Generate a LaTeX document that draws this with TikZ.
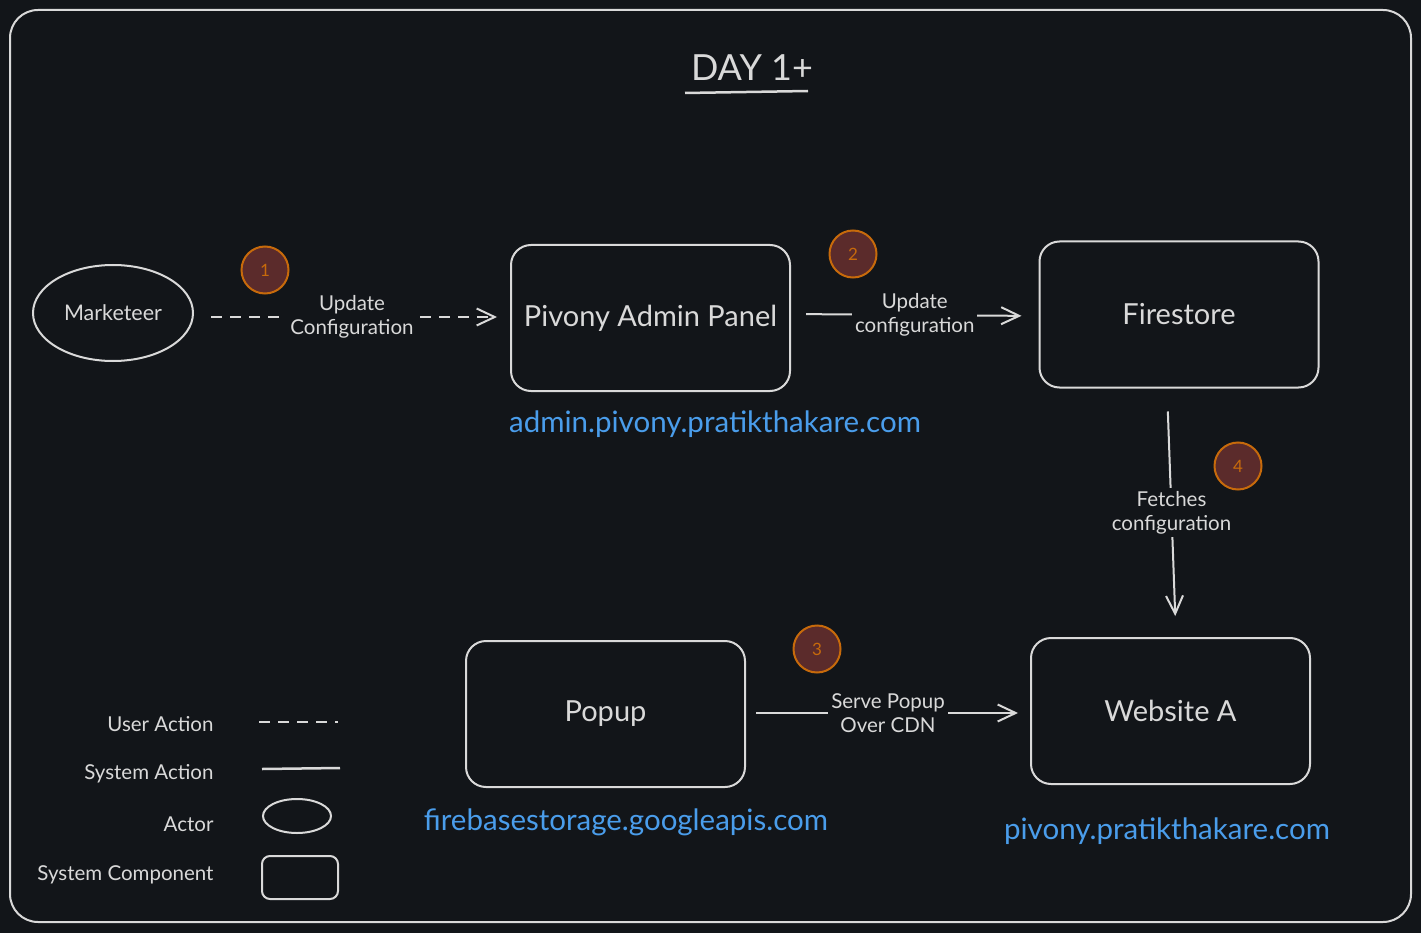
\documentclass[tikz,border=0pt]{standalone}
\usepackage{fontspec}
\setmainfont{Lato}
\usetikzlibrary{shapes.geometric,arrows.meta}
\definecolor{bg}{HTML}{121519}
\definecolor{ink}{HTML}{D9D9D9}
\definecolor{linkblue}{HTML}{4A9DEB}
\definecolor{badgefill}{HTML}{5B2B2B}
\definecolor{badgeline}{HTML}{C76A0B}
\tikzset{
  every node/.style={text=ink},
  comp/.style={draw=ink, line width=2pt, rounded corners=20pt, minimum width=279pt, minimum height=146pt, inner sep=0pt, font=\fontsize{29}{33}\selectfont},
  actor/.style={ellipse, draw=ink, line width=2pt, minimum width=160pt, minimum height=96pt, inner sep=0pt, font=\fontsize{21.5}{24}\selectfont},
  badge/.style={circle, draw=badgeline, fill=badgefill, line width=2pt, minimum size=47pt, inner sep=0pt, text=badgeline, font=\fontsize{17}{20}\selectfont},
  url/.style={text=linkblue, font=\fontsize{29.5}{33}\selectfont},
  conn/.style={draw=ink, line width=2pt, -{Straight Barb[length=18pt,width=17pt,line width=2pt]}},
  useract/.style={conn, dash pattern=on 11pt off 8pt},
  elabel/.style={fill=bg, inner sep=3pt, align=center, font=\fontsize{20.5}{24}\selectfont},
  legtext/.style={anchor=east, font=\fontsize{20.5}{24}\selectfont},
}
\begin{document}
\begin{tikzpicture}[x=1pt,y=-1pt]
\useasboundingbox (0,0) rectangle (1421,933);
\fill[bg] (0,0) rectangle (1421,933);
\draw[draw=ink, line width=2pt, rounded corners=28pt] (10,10) rectangle (1411,922);

% title
\node[font=\fontsize{36}{40}\selectfont] (title) at (752,68) {DAY 1+};
\draw[ink, line width=2.5pt] (685,93) -- (808,91);

% nodes
\node[actor] (mk) at (113,313) {Marketeer};
\node[comp] (admin) at (650.5,318) {Pivony Admin Panel};
\node[comp] (fire) at (1179,314.5) {Firestore};
\node[comp] (web) at (1170.5,711) {Website A};
\node[comp] (popup) at (605.5,714) {Popup};

% urls
\node[url] (adminurl) at (715,424) {admin.pivony.pratikthakare.com};
\node[url] (popupurl) at (626,822) {firebasestorage.googleapis.com};
\node[url] (weburl) at (1167,831) {pivony.pratikthakare.com};

% connectors
\draw[useract, shorten <=17pt, shorten >=13pt] (mk.east |- 0,317) -- (admin.west |- 0,317)
  node[elabel, midway] (l1) {Update\\Configuration};
\draw[conn, shorten <=15pt, shorten >=17pt] (admin.east |- 0,314) -- (fire.west |- 0,316)
  node[elabel, midway] (l2) {Update\\configuration};
\draw[conn, shorten <=23pt, shorten >=21pt] (fire.south -| 1167,0) -- (web.north -| 1176,0)
  node[elabel, midway] (l4) {Fetches\\configuration};
\draw[conn, shorten <=10pt, shorten >=12pt] (popup.east |- 0,713) -- (web.west |- 0,713)
  node[elabel, midway] (l3) {Serve Popup\\Over CDN};

% badges
\node[badge] (b1) at (265,270) {1};
\node[badge] (b2) at (853,254) {2};
\node[badge] (b3) at (817,649) {3};
\node[badge] (b4) at (1238,466) {4};

% legend
\node[legtext] (lg1) at (217,724) {User Action};
\node[legtext] (lg2) at (217,774) {System Action};
\node[legtext] (lg3) at (217,824) {Actor};
\node[legtext] (lg4) at (217,875) {System Component};
\coordinate (ua1) at (259,722);
\coordinate (ua2) at (338,722);
\draw[ink, line width=2pt, dash pattern=on 11pt off 8pt] (ua1) -- (ua2);
\coordinate (sa1) at (262,769);
\coordinate (sa2) at (340,768);
\draw[ink, line width=2.5pt] (sa1) -- (sa2);
\node[ellipse, draw=ink, line width=2pt, minimum width=68pt, minimum height=34pt, inner sep=0pt] (legactor) at (297,816) {};
\node[draw=ink, line width=2pt, rounded corners=8pt, minimum width=76pt, minimum height=43pt, inner sep=0pt] (legcomp) at (300,877.5) {};
\end{tikzpicture}
\end{document}
